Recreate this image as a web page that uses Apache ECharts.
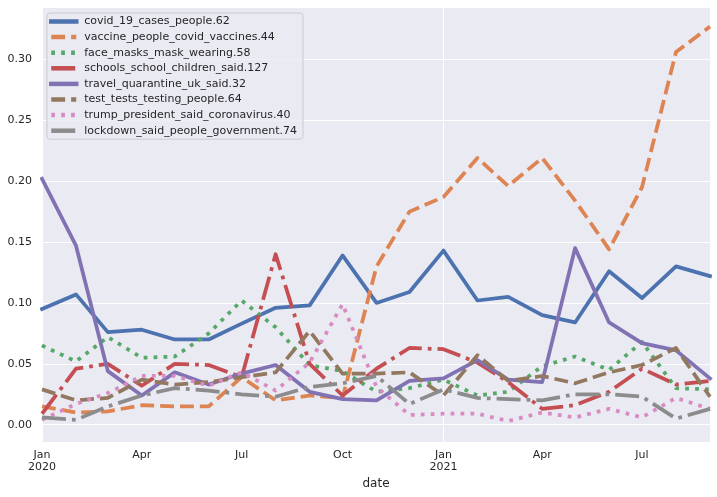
<!DOCTYPE html>
<html><head><meta charset="utf-8">
<script src="https://cdn.jsdelivr.net/npm/echarts@6/dist/echarts.min.js"></script>
<style>html,body{margin:0;padding:0;background:#fff}#c{width:717px;height:497px}</style>
</head><body><div id="c"></div>
<script>
const dates = ['2020-01-01','2020-02-01','2020-03-01','2020-04-01','2020-05-01','2020-06-01','2020-07-01','2020-08-01','2020-09-01','2020-10-01','2020-11-01','2020-12-01','2021-01-01','2021-02-01','2021-03-01','2021-04-01','2021-05-01','2021-06-01','2021-07-01','2021-08-01','2021-09-01'];
const seriesNames = ['covid_19_cases_people.62','vaccine_people_covid_vaccines.44','face_masks_mask_wearing.58','schools_school_children_said.127','travel_quarantine_uk_said.32','test_tests_testing_people.64','trump_president_said_coronavirus.40','lockdown_said_people_government.74'];
const covid    = [0.095,0.107,0.076,0.078,0.070,0.070,0.083,0.096,0.098,0.139,0.100,0.109,0.143,0.102,0.105,0.090,0.084,0.126,0.104,0.130,0.122];
const vaccine  = [0.015,0.010,0.011,0.016,0.015,0.015,0.039,0.020,0.024,0.022,0.130,0.175,0.187,0.219,0.196,0.219,0.184,0.144,0.195,0.306,0.327];
const masks    = [0.065,0.052,0.072,0.055,0.056,0.075,0.102,0.080,0.049,0.044,0.027,0.030,0.037,0.024,0.027,0.048,0.056,0.045,0.068,0.030,0.029];
const schools  = [0.009,0.046,0.050,0.032,0.050,0.049,0.039,0.140,0.050,0.024,0.046,0.063,0.062,0.051,0.035,0.013,0.016,0.027,0.046,0.033,0.036];
const travel   = [0.202,0.147,0.044,0.024,0.043,0.033,0.042,0.049,0.027,0.021,0.020,0.036,0.038,0.053,0.037,0.035,0.145,0.084,0.067,0.061,0.038];
const testing  = [0.029,0.020,0.022,0.037,0.033,0.035,0.039,0.043,0.077,0.042,0.042,0.043,0.024,0.057,0.036,0.040,0.034,0.043,0.049,0.063,0.023];
const trump    = [0.004,0.017,0.026,0.040,0.040,0.032,0.043,0.028,0.051,0.099,0.031,0.008,0.009,0.009,0.003,0.010,0.006,0.013,0.006,0.022,0.013];
const lockdown = [0.006,0.004,0.015,0.024,0.030,0.028,0.025,0.023,0.031,0.034,0.040,0.017,0.029,0.022,0.021,0.020,0.025,0.025,0.023,0.005,0.013];
const xLabelDates = ['2020-01-01','2020-04-01','2020-07-01','2020-10-01','2021-01-01','2021-04-01','2021-07-01'];
const xLabelTexts = ['Jan\n2020','Apr','Jul','Oct','Jan\n2021','Apr','Jul'];
const xGridDates = ['2020-01-01','2021-01-01'];
const yTicks = [0,0.05,0.10,0.15,0.20,0.25,0.30];

const allValues = [covid,vaccine,masks,schools,travel,testing,trump,lockdown];
const colors = ['#4C72B0','#DD8452','#55A868','#C44E52','#8172B3','#937860','#DA8BC3','#8C8C8C'];
const LW = 3.75;
const dashes = ['solid',[3.7*LW,1.6*LW],[1*LW,1.65*LW],[6.4*LW,1.6*LW,1*LW,1.6*LW]];
const t = s => Date.UTC(+s.slice(0,4), +s.slice(5,7)-1, +s.slice(8,10));
const labelMap = {};
xLabelDates.forEach((d,i)=>{ labelMap[t(d)] = xLabelTexts[i]; });
const FONT = 'DejaVu Sans';
const TXT = '#262626';

const series = allValues.map((vals,k)=>({
  name: seriesNames[k],
  type: 'line',
  symbol: 'none',
  data: dates.map((d,i)=>[t(d), vals[i]]),
  lineStyle: {
    color: colors[k], width: LW,
    type: dashes[k % 4],
    cap: k % 4 === 0 ? 'square' : 'butt',
    join: 'round'
  },
  itemStyle: {color: colors[k]},
  emphasis: {disabled: true}
}));

const chart = echarts.init(document.getElementById('c'), null, {renderer:'canvas'});
chart.setOption({
  animation: false,
  backgroundColor: '#ffffff',
  grid: {left: 42, right: 7, top: 8, bottom: 55, show: true, backgroundColor: '#EAEAF2', borderWidth: 0},
  xAxis: {
    type: 'value', min: t(dates[0]), max: t(dates[dates.length-1]),
    name: 'date', nameLocation: 'middle', nameGap: 34,
    nameTextStyle: {fontFamily: FONT, fontSize: 12, color: TXT},
    axisLine: {show: false},
    axisTick: {show: false, customValues: xGridDates.map(t)},
    splitLine: {show: true, lineStyle: {color: '#ffffff', width: 1}},
    axisLabel: {
      customValues: xLabelDates.map(t),
      formatter: v => labelMap[v] || '',
      fontFamily: FONT, fontSize: 11, color: TXT, lineHeight: 12, margin: 7,
      align: 'center', hideOverlap: false
    }
  },
  yAxis: {
    type: 'value', min: -0.0142, max: 0.3422,
    axisLine: {show: false},
    axisTick: {show: false, customValues: yTicks},
    splitLine: {show: true, lineStyle: {color: '#ffffff', width: 1}},
    axisLabel: {
      customValues: yTicks,
      formatter: v => v.toFixed(2),
      fontFamily: FONT, fontSize: 11, color: TXT, margin: 10
    }
  },
  legend: {
    data: seriesNames, orient: 'vertical', left: 47, top: 13,
    itemWidth: 25, itemHeight: 12, itemGap: 4.6,
    padding: [3, 6, 3, 2],
    backgroundColor: 'rgba(234,234,242,0.8)', borderColor: '#cccccc', borderWidth: 1, borderRadius: 3,
    itemStyle: {color: 'rgba(0,0,0,0)', borderWidth: 0, opacity: 0},
    lineStyle: {width: 4.5},
    textStyle: {fontFamily: FONT, fontSize: 11, color: TXT, padding: [0,0,0,3]},
    selectedMode: false
  },
  series: series
});
</script>
</body></html>
